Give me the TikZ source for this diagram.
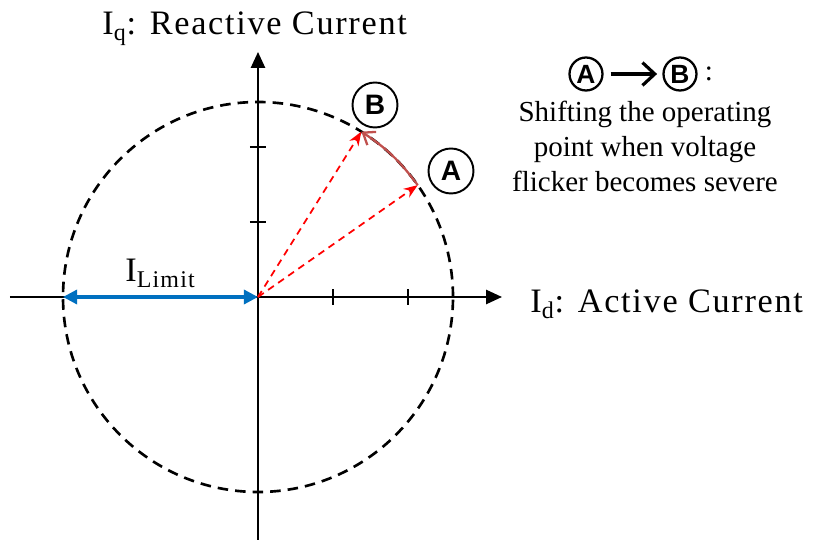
\documentclass[tikz,border=0pt]{standalone}
\usepackage{fontspec}
\setmainfont{Liberation Serif}
\newfontfamily\labfont{Liberation Sans}
\newfontfamily\widefam[LetterSpace=5]{Liberation Serif}
\usetikzlibrary{arrows.meta,positioning}
\definecolor{limblue}{RGB}{0,112,192}
\definecolor{shiftred}{RGB}{192,80,77}
\definecolor{vecred}{RGB}{255,0,0}
\newcommand{\axisfont}{\widefam\fontsize{19.5}{24}\selectfont}
\newcommand{\descfont}{\fontsize{16.5}{19.9}\selectfont}

\begin{document}
\begin{tikzpicture}[x=0.02cm,y=0.02cm,
  axis/.style={line width=1.2pt,-{Triangle[length=9pt,width=8pt]}},
  tickmark/.style={line width=1.1pt},
  limcircle/.style={line width=1.5pt,dash pattern=on 6pt off 4pt},
  vec/.style={vecred,line width=1pt,dash pattern=on 4pt off 3pt,-{Stealth[length=8pt,width=6pt]}},
  ptlabel/.style={draw,circle,line width=1.1pt,minimum size=0.9cm,inner sep=0pt,font=\labfont\bfseries\fontsize{16}{16}\selectfont},
  smlabel/.style={ptlabel,line width=1.3pt,minimum size=0.66cm,font=\labfont\bfseries\fontsize{15}{15}\selectfont}]
\useasboundingbox (-258,-247) rectangle (558,297);
% origin and operating points
\coordinate (O) at (0,0);
\coordinate (A) at (35:195);
\coordinate (B) at (58:195);
\coordinate (L) at (180:195);
\coordinate (xmin) at (-248,0);
\coordinate (xmax) at (244,0);
\coordinate (ymin) at (0,-243);
\coordinate (ymax) at (0,245);
% axes
\draw[axis] (xmin) -- (xmax);
\draw[axis] (ymin) -- (ymax);
\foreach \t in {75,150} {
  \draw[tickmark] (\t,-8) -- (\t,8);
  \draw[tickmark] (-8,\t) -- (8,\t);
}
\node[anchor=base west,inner sep=0pt,font=\axisfont] (iq) at (-156,262) {I\textsubscript{q}: Reactive Current};
\node[anchor=base west,inner sep=0pt,font=\axisfont] (id) at (272,-16) {I\textsubscript{d}: Active Current};
% current limit
\draw[limcircle] (O) circle[radius=195];
\draw[limblue,line width=1.8pt,{Triangle[length=8pt,width=8pt]}-{Triangle[length=8pt,width=8pt]}] (L) -- (O);
\node[anchor=base west,inner sep=0pt,font=\axisfont] (ilim) at (-133,15) {I\textsubscript{Limit}};
% operating points
\draw[vec] (O) -- (A);
\draw[vec] (O) -- (B);
\draw[shiftred,line width=1.3pt,-{Straight Barb[length=6pt,width=9pt]}] (A) to[bend right=10] (B);
\node[ptlabel] (labA) at (193,126) {A};
\node[ptlabel] (labB) at (117,192) {B};
% legend
\node[smlabel] (lgA) at (328,223) {A};
\node[smlabel] (lgB) at (422,223) {B};
\draw[line width=1.8pt,shorten <=4pt,shorten >=3pt,-{Straight Barb[length=7pt,width=13pt]}] (lgA) -- (lgB);
\node[right=0.14cm of lgB,inner sep=0pt,font=\descfont] (colon) {:};
\node[align=center,font=\descfont] (desc) at (387,151) {Shifting the operating\\point when voltage\\flicker becomes severe};
\end{tikzpicture}
\end{document}
